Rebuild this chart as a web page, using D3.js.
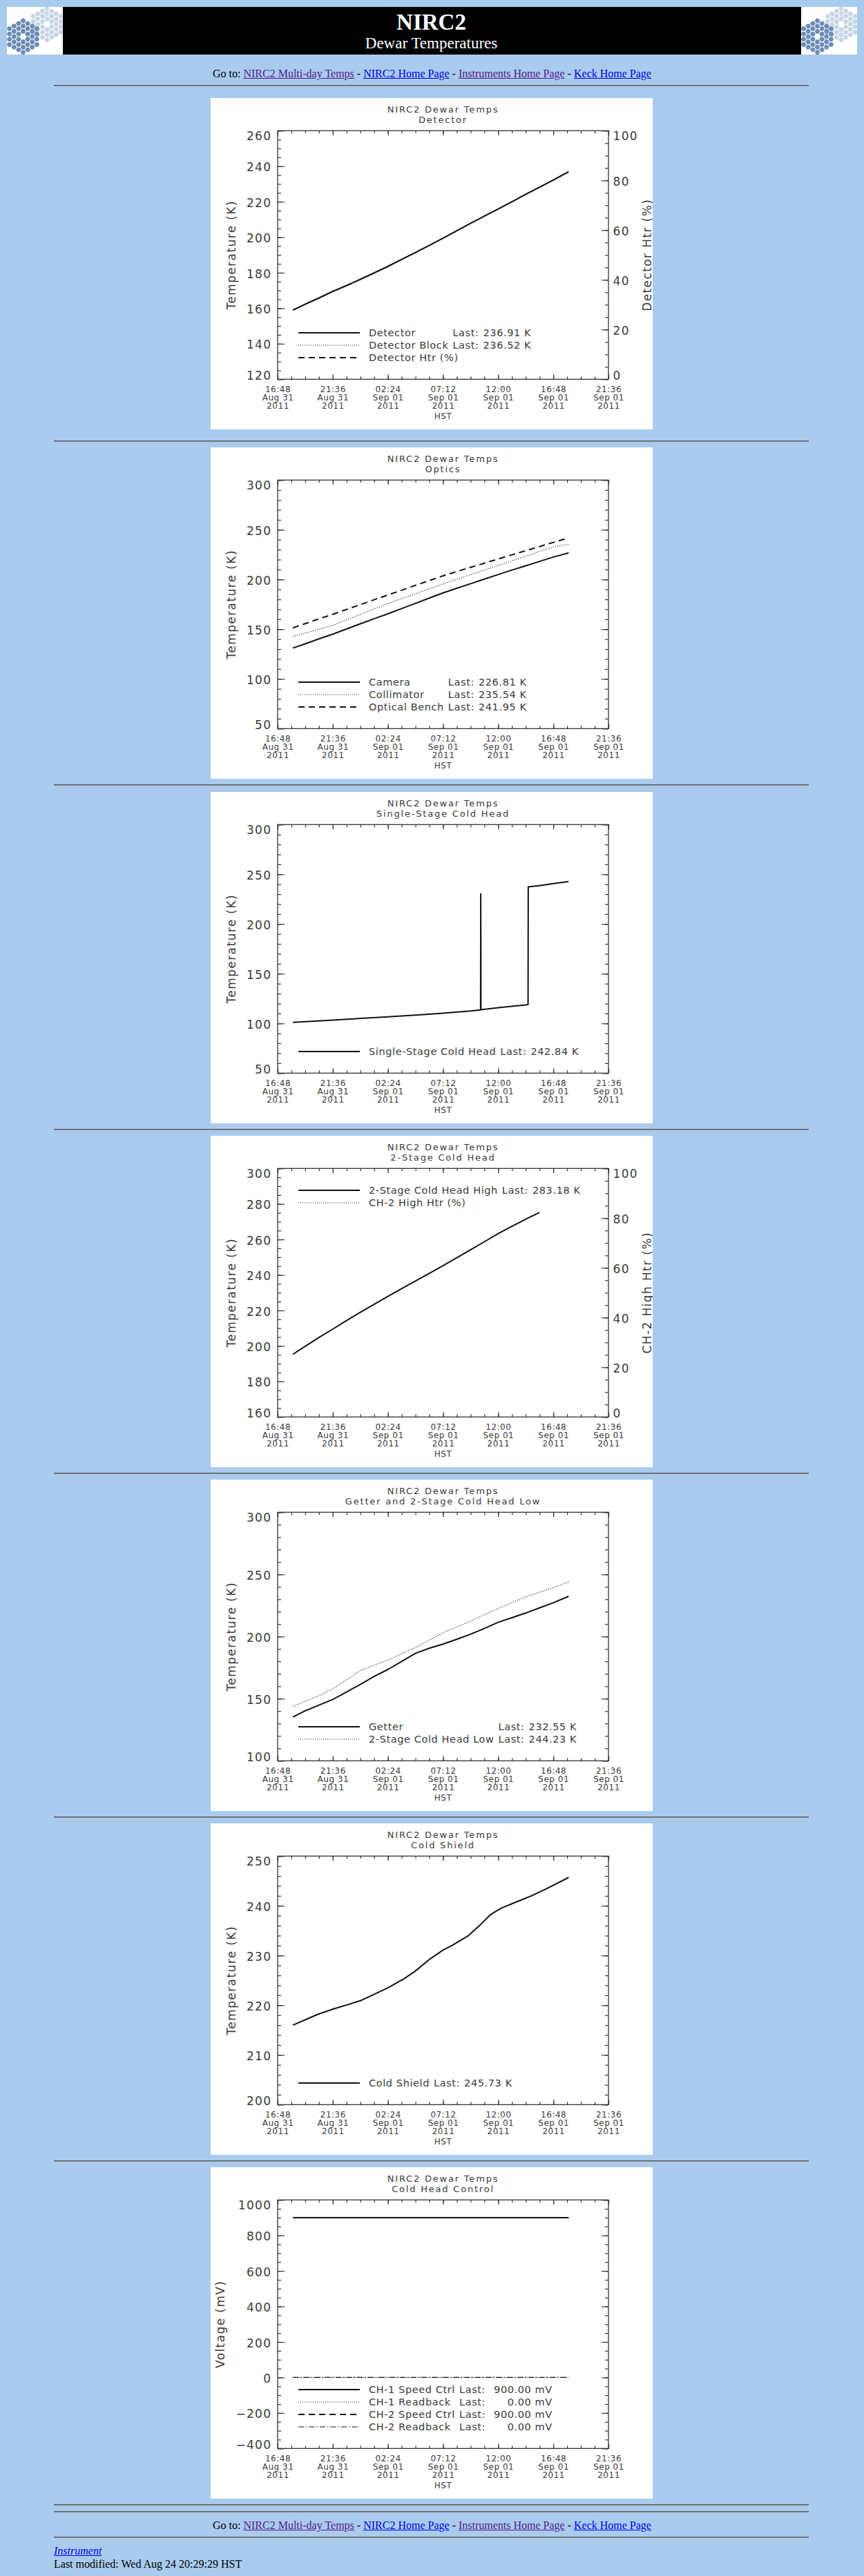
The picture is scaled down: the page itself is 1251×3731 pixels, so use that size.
<!DOCTYPE html>
<html>
<head>
<meta charset="utf-8">
<title>NIRC2 Dewar Temperatures</title>
<script src="https://cdn.jsdelivr.net/npm/d3@7"></script>
<style>
  body { margin: 0; background: #a9cbee; font-family: "Liberation Serif", "Times New Roman", serif; font-size: 16px; }
  #page { position: relative; width: 1251px; height: 3731px; overflow: hidden; }
  .abs { position: absolute; }
  .rule { position: absolute; left: 78px; width: 1093px; height: 0; border-top: 1px solid #5a5a5a; border-bottom: 1px solid #8e8e8e; }
  .nav { position: absolute; left: 0; width: 1251px; text-align: center; line-height: 16px; white-space: nowrap; }
  .foot { position: absolute; left: 78px; line-height: 16px; white-space: nowrap; }
  a { color: #0000ee; }
  a.seen { color: #551a8b; }
  .panel { position: absolute; left: 305px; width: 640px; height: 480px; background: #fff; overflow: hidden; }
</style>
</head>
<body>
<div id="page"></div>
<script>
// ---- data ----------------------------------------------------------------
const parseTime = d3.timeParse("%Y-%m-%d %H:%M");
const xStart = "2011-08-31 16:48";
const xEnd = "2011-09-01 21:36";

const sampleTimes = [
  "2011-08-31 18:08", "2011-08-31 19:12", "2011-08-31 20:24", "2011-08-31 21:36", "2011-08-31 22:48",
  "2011-09-01 00:00", "2011-09-01 01:12", "2011-09-01 02:24", "2011-09-01 03:36", "2011-09-01 04:48",
  "2011-09-01 06:00", "2011-09-01 07:12", "2011-09-01 08:24", "2011-09-01 09:36", "2011-09-01 10:48",
  "2011-09-01 12:00", "2011-09-01 13:12", "2011-09-01 14:24", "2011-09-01 15:36", "2011-09-01 16:48",
  "2011-09-01 18:08"
];

const detectorTemp = [159.0, 162.3, 165.8, 169.5, 172.8, 176.3, 179.9, 183.6, 187.5, 191.4, 195.4,
  199.5, 203.7, 207.9, 211.9, 215.9, 220.0, 224.2, 228.2, 232.3, 236.9];
const detectorBlockTemp = [158.8, 162.0, 165.5, 169.2, 172.5, 176.0, 179.6, 183.3, 187.2, 191.1, 195.1,
  199.2, 203.4, 207.6, 211.6, 215.6, 219.7, 223.9, 227.9, 231.9, 236.5];
const detectorHtr = [];

const cameraTemp = [131.0, 135.3, 140.3, 145.0, 150.2, 155.4, 160.5, 165.5, 170.8, 176.0, 181.3,
  186.5, 191.2, 195.8, 200.4, 205.0, 209.5, 213.8, 218.2, 222.5, 226.8];
const collimatorTemp = [142.6, 146.0, 149.9, 153.8, 159.4, 164.9, 170.4, 175.8, 180.8, 185.7, 190.6,
  195.5, 200.2, 204.9, 209.5, 214.1, 218.8, 223.4, 228.1, 232.7, 235.5];
const benchTemp = [151.4, 155.6, 160.4, 165.0, 169.9, 174.7, 179.6, 184.4, 189.2, 194.1, 198.9,
  203.7, 208.0, 212.2, 216.4, 220.6, 224.8, 229.0, 233.1, 237.3, 241.9];

const singleStageTimes = [
  "2011-08-31 18:08", "2011-08-31 21:36", "2011-09-01 00:00", "2011-09-01 02:24", "2011-09-01 04:48",
  "2011-09-01 07:12", "2011-09-01 09:36", "2011-09-01 10:28", "2011-09-01 10:29", "2011-09-01 10:30",
  "2011-09-01 12:00", "2011-09-01 14:24", "2011-09-01 14:36", "2011-09-01 14:37", "2011-09-01 15:36",
  "2011-09-01 16:48", "2011-09-01 18:08"
];
const singleStageTemp = [101.0, 103.4, 105.0, 106.6, 108.3, 110.2, 112.5, 113.6, 230.5, 113.7,
  115.8, 118.6, 119.0, 237.3, 238.6, 240.7, 242.8];

const coldHeadHighTemp = [195.3, 199.8, 204.8, 209.5, 214.3, 219.0, 223.5, 227.9, 232.3, 236.6,
  240.9, 245.2, 249.7, 254.2, 258.7, 263.3, 267.4, 271.4, 275.2];
const ch2HighHtr = [];

const getterTemp = [135.2, 140.2, 144.8, 149.4, 155.4, 161.5, 167.9, 173.5, 180.0, 186.5, 190.6,
  193.9, 197.8, 201.9, 206.5, 211.5, 215.2, 218.9, 223.1, 227.2, 232.4];
const coldHeadLowTemp = [143.9, 147.8, 152.5, 157.8, 165.0, 172.6, 177.0, 181.2, 186.2, 191.1, 197.1,
  203.1, 207.8, 212.4, 217.5, 222.6, 227.3, 231.9, 235.6, 239.3, 243.9];

const coldShieldTimes = [
  "2011-08-31 18:08", "2011-08-31 20:13", "2011-08-31 21:36", "2011-09-01 00:00", "2011-09-01 02:24",
  "2011-09-01 03:47", "2011-09-01 04:48", "2011-09-01 06:04", "2011-09-01 07:12", "2011-09-01 07:58",
  "2011-09-01 09:21", "2011-09-01 10:22", "2011-09-01 11:22", "2011-09-01 12:15", "2011-09-01 13:23",
  "2011-09-01 14:54", "2011-09-01 16:10", "2011-09-01 18:08"
];
const coldShieldTemp = [216.0, 218.1, 219.2, 220.9, 223.5, 225.3, 226.9, 229.3, 231.1, 232.0,
  233.9, 236.0, 238.3, 239.5, 240.6, 242.0, 243.4, 245.7];

const controlTimes = ["2011-08-31 18:08", "2011-09-01 06:00", "2011-09-01 18:08"];
const ch1SpeedCtrl = [900, 900, 900];
const ch1Readback = [0, 0, 0];
const ch2SpeedCtrl = [900, 900, 900];
const ch2Readback = [0, 0, 0];

const navLinks = ["NIRC2 Multi-day Temps", "NIRC2 Home Page", "Instruments Home Page", "Keck Home Page"];
const navSeen = [true, false, true, false];

// ---- layout ---------------------------------------------------------------
const panelTops = [142, 648, 1147, 1645, 2143, 2641, 3139];
const ruleYs = [124, 639, 1137, 1636, 2134, 2632, 3130, 3628, 3638, 3675];
const box = { left: 97, right: 576, top: 47.3, bottom: 407.3 };
const plotFont = "'DejaVu Sans', Verdana, sans-serif";
const ink = "#3a3a3a";

const lineStyles = {
  solid:   { dash: null,          width: 2 },
  dotted:  { dash: "1,2",         width: 1.2 },
  dashed:  { dash: "9,6",         width: 2 },
  dashdot: { dash: "8,3,1.5,3",   width: 1.2 }
};

function series(name, last, times, values, style) {
  return { name, last, style, points: times.slice(0, values.length).map((t, i) => ({ t: parseTime(t), v: values[i] })) };
}

const panels = [
  { title: "Detector", yLabel: "Temperature (K)", yDomain: [120, 260], yStep: 20, yMinor: 4,
    right: { label: "Detector Htr (%)", domain: [0, 100], step: 20, minor: 4 },
    legend: "bottom",
    series: [
      series("Detector", "236.91 K", sampleTimes, detectorTemp, "solid"),
      series("Detector Block", "236.52 K", sampleTimes, detectorBlockTemp, "dotted"),
      series("Detector Htr (%)", null, sampleTimes, detectorHtr, "dashed")
    ] },
  { title: "Optics", yLabel: "Temperature (K)", yDomain: [50, 300], yStep: 50, yMinor: 5,
    legend: "bottom",
    series: [
      series("Camera", "226.81 K", sampleTimes, cameraTemp, "solid"),
      series("Collimator", "235.54 K", sampleTimes, collimatorTemp, "dotted"),
      series("Optical Bench", "241.95 K", sampleTimes, benchTemp, "dashed")
    ] },
  { title: "Single-Stage Cold Head", yLabel: "Temperature (K)", yDomain: [50, 300], yStep: 50, yMinor: 5,
    legend: "bottom",
    series: [series("Single-Stage Cold Head", "242.84 K", singleStageTimes, singleStageTemp, "solid")] },
  { title: "2-Stage Cold Head", yLabel: "Temperature (K)", yDomain: [160, 300], yStep: 20, yMinor: 4,
    right: { label: "CH-2 High Htr (%)", domain: [0, 100], step: 20, minor: 4 },
    legend: "top",
    series: [
      series("2-Stage Cold Head High", "283.18 K", sampleTimes, coldHeadHighTemp, "solid"),
      series("CH-2 High Htr (%)", null, sampleTimes, ch2HighHtr, "dotted")
    ] },
  { title: "Getter and 2-Stage Cold Head Low", yLabel: "Temperature (K)", yDomain: [100, 300], yStep: 50, yMinor: 5,
    legend: "bottom",
    series: [
      series("Getter", "232.55 K", sampleTimes, getterTemp, "solid"),
      series("2-Stage Cold Head Low", "244.23 K", sampleTimes, coldHeadLowTemp, "dotted")
    ] },
  { title: "Cold Shield", yLabel: "Temperature (K)", yDomain: [200, 250], yStep: 10, yMinor: 5,
    legend: "bottom",
    series: [series("Cold Shield", "245.73 K", coldShieldTimes, coldShieldTemp, "solid")] },
  { title: "Cold Head Control", yLabel: "Voltage (mV)", yDomain: [-400, 1000], yStep: 200, yMinor: 4,
    legend: "bottom", valueGap: 2,
    series: [
      series("CH-1 Speed Ctrl", "900.00 mV", controlTimes, ch1SpeedCtrl, "solid"),
      series("CH-1 Readback", "0.00 mV", controlTimes, ch1Readback, "dotted"),
      series("CH-2 Speed Ctrl", "900.00 mV", controlTimes, ch2SpeedCtrl, "dashed"),
      series("CH-2 Readback", "0.00 mV", controlTimes, ch2Readback, "dashdot")
    ] }
];

const page = d3.select("#page");

// ---- header banner ----------------------------------------------------------
function drawKeck(g, cx, cy, color) {
  const r = 4.4, h = Math.sqrt(3) * r;
  for (let q = -3; q <= 3; q++) {
    for (let s = -3; s <= 3; s++) {
      if (Math.max(Math.abs(q), Math.abs(s), Math.abs(q + s)) > 3 || (q === 0 && s === 0)) continue;
      const x = cx + 1.5 * r * q, y = cy + h * (s + q / 2);
      const pts = d3.range(6).map(k => {
        const a = Math.PI / 3 * k;
        return [x + 0.86 * r * Math.cos(a), y + 0.86 * r * Math.sin(a)];
      });
      g.append("polygon").attr("points", pts.join(" ")).attr("fill", color);
    }
  }
}

const header = page.append("svg").attr("class", "abs")
  .style("left", "10px").style("top", "10px")
  .attr("width", 1231).attr("height", 69);

header.append("rect").attr("x", 80).attr("width", 1070).attr("height", 69).attr("fill", "#000");

[0, 1150].forEach((ox, i) => {
  header.append("clipPath").attr("id", "logo" + i)
    .append("rect").attr("width", 81).attr("height", 69);
  const lg = header.append("g").attr("transform", `translate(${ox},0)`).attr("clip-path", `url(#logo${i})`);
  lg.append("rect").attr("width", 81).attr("height", 69).attr("fill", "#fff");
  drawKeck(lg, 58, 25, "#c8d5e5");
  drawKeck(lg, 23.5, 43, "#6b8db5");
});

header.append("text").attr("x", 614.5).attr("y", 32.7)
  .attr("text-anchor", "middle").attr("fill", "#fff")
  .style("font", "bold 33px 'Liberation Serif', serif")
  .text("NIRC2");
header.append("text").attr("x", 614.5).attr("y", 60)
  .attr("text-anchor", "middle").attr("fill", "#fff")
  .style("font", "23px 'Liberation Serif', serif")
  .text("Dewar Temperatures");

// ---- navigation + rules -----------------------------------------------------
function addNav(top) {
  const nav = page.append("div").attr("class", "nav").style("top", top + "px");
  nav.append("span").text("Go to: ");
  navLinks.forEach((name, i) => {
    if (i > 0) nav.append("span").text(" - ");
    nav.append("a").attr("href", "#").classed("seen", navSeen[i]).text(name);
  });
}
addNav(99);
addNav(3650);

ruleYs.forEach(y => page.append("div").attr("class", "rule").style("top", (y - 1) + "px"));

const inst = page.append("div").attr("class", "foot").style("top", "3687px");
inst.append("a").attr("href", "#").style("font-style", "italic").text("Instrument");
page.append("div").attr("class", "foot").style("top", "3706px")
  .text("Last modified: Wed Aug 24 20:29:29 HST");

// ---- plots ------------------------------------------------------------------
const x = d3.scaleTime().domain([parseTime(xStart), parseTime(xEnd)]).range([box.left, box.right]);
const t0 = x.domain()[0].getTime();
const xMajor = d3.range(7).map(k => new Date(t0 + k * 288 * 60000));
const xMinor = d3.range(25).map(k => new Date(t0 + k * 72 * 60000));
const fmtTime = d3.timeFormat("%H:%M"), fmtDay = d3.timeFormat("%b %d"), fmtYear = d3.timeFormat("%Y");

function styleAxis(g, size, spacing) {
  g.select(".domain").remove();
  g.attr("color", "#333").attr("font-family", plotFont).attr("font-size", size)
    .style("letter-spacing", spacing + "px");
  g.selectAll(".tick line").attr("stroke-width", 1.2);
  g.selectAll(".tick text").attr("fill", ink);
}

function clampLabels(g, scale) {
  g.selectAll(".tick text").each(function (d) {
    const py = scale(d);
    const c = Math.max(box.top + 7.5, Math.min(box.bottom - 6.2, py + 1));
    d3.select(this).attr("y", c - py).attr("dy", "0.36em");
  });
}

function yTicks(lo, hi, step) {
  return d3.range(lo, hi + step / 1000, step);
}

function drawPanel(spec, i) {
  const svg = page.append("svg").attr("class", "panel")
    .style("top", panelTops[i] + "px")
    .attr("width", 640).attr("height", 480);

  const y = d3.scaleLinear().domain(spec.yDomain).range([box.bottom, box.top]);
  const yMajor = yTicks(spec.yDomain[0], spec.yDomain[1], spec.yStep);
  const yMinor = yTicks(spec.yDomain[0], spec.yDomain[1], spec.yStep / spec.yMinor);

  // titles
  const title = svg.append("g").attr("font-family", plotFont).attr("font-size", 13)
    .attr("fill", ink).attr("text-anchor", "middle").style("letter-spacing", "1.8px");
  title.append("text").attr("x", (box.left + box.right) / 2).attr("y", 21.3).text("NIRC2 Dewar Temps");
  title.append("text").attr("x", (box.left + box.right) / 2).attr("y", 36.3).text(spec.title);

  // x axes (top and bottom, minor and major ticks point inward)
  svg.append("g").attr("transform", `translate(0,${box.bottom})`)
    .call(d3.axisBottom(x).tickValues(xMinor).tickSize(-4).tickFormat(""))
    .call(g => styleAxis(g, 12, 0.5));
  svg.append("g").attr("transform", `translate(0,${box.top})`)
    .call(d3.axisTop(x).tickValues(xMinor).tickSize(-4).tickFormat(""))
    .call(g => styleAxis(g, 12, 0.5));
  svg.append("g").attr("transform", `translate(0,${box.top})`)
    .call(d3.axisTop(x).tickValues(xMajor).tickSize(-7).tickFormat(""))
    .call(g => styleAxis(g, 12, 0.5));
  const xb = svg.append("g").attr("transform", `translate(0,${box.bottom})`)
    .call(d3.axisBottom(x).tickValues(xMajor).tickSize(-7).tickFormat(""))
    .call(g => styleAxis(g, 12, 0.5));
  xb.selectAll(".tick text").attr("y", 0).attr("dy", null).each(function (d) {
    const t = d3.select(this);
    t.append("tspan").attr("x", 0).attr("y", 19).text(fmtTime(d));
    t.append("tspan").attr("x", 0).attr("y", 30.7).text(fmtDay(d));
    t.append("tspan").attr("x", 0).attr("y", 42.4).text(fmtYear(d));
  });
  svg.append("text").attr("x", (box.left + box.right) / 2).attr("y", 465.3)
    .attr("text-anchor", "middle").attr("font-family", plotFont).attr("font-size", 12)
    .style("letter-spacing", "0.5px").attr("fill", ink).text("HST");

  // left y axis
  svg.append("g").attr("transform", `translate(${box.left},0)`)
    .call(d3.axisLeft(y).tickValues(yMinor).tickSize(-5).tickFormat(""))
    .call(g => styleAxis(g, 17, 1.3));
  const yl = svg.append("g").attr("transform", `translate(${box.left},0)`)
    .call(d3.axisLeft(y).tickValues(yMajor).tickSize(-10).tickPadding(8.7).tickFormat(d3.format("d")))
    .call(g => styleAxis(g, 17, 1.3));
  clampLabels(yl, y);

  let minLeft = box.left;
  yl.selectAll(".tick text").each(function () {
    minLeft = Math.min(minLeft, box.left - 8.7 - this.getComputedTextLength());
  });
  const yTitleX = minLeft - 21.7;
  svg.append("text")
    .attr("transform", `translate(${yTitleX + 5.4},${(box.top + box.bottom) / 2}) rotate(-90)`)
    .attr("text-anchor", "middle").attr("font-family", plotFont).attr("font-size", 17)
    .style("letter-spacing", "1.4px").attr("fill", ink).text(spec.yLabel);

  // right y axis: either its own scale or a mirror of the left one
  const clipId = "clip" + i;
  if (spec.right) {
    const y2 = d3.scaleLinear().domain(spec.right.domain).range([box.bottom, box.top]);
    const r = spec.right;
    svg.append("g").attr("transform", `translate(${box.right},0)`)
      .call(d3.axisRight(y2).tickValues(yTicks(r.domain[0], r.domain[1], r.step / r.minor)).tickSize(-5).tickFormat(""))
      .call(g => styleAxis(g, 17, 1.3));
    const yr = svg.append("g").attr("transform", `translate(${box.right},0)`)
      .call(d3.axisRight(y2).tickValues(yTicks(r.domain[0], r.domain[1], r.step)).tickSize(-10).tickPadding(6.6).tickFormat(d3.format("d")))
      .call(g => styleAxis(g, 17, 1.3));
    clampLabels(yr, y2);
    // the right title runs past the image edge, as in the original plot
    svg.append("text")
      .attr("transform", `translate(${633 + 5.4},${(box.top + box.bottom) / 2}) rotate(-90)`)
      .attr("text-anchor", "middle").attr("font-family", plotFont).attr("font-size", 17)
      .style("letter-spacing", "1.4px").attr("fill", ink).text(r.label);
  } else {
    svg.append("g").attr("transform", `translate(${box.right},0)`)
      .call(d3.axisRight(y).tickValues(yMinor).tickSize(-5).tickFormat(""))
      .call(g => styleAxis(g, 17, 1.3));
    svg.append("g").attr("transform", `translate(${box.right},0)`)
      .call(d3.axisRight(y).tickValues(yMajor).tickSize(-10).tickFormat(""))
      .call(g => styleAxis(g, 17, 1.3));
  }

  // plot box
  svg.append("rect").attr("x", box.left).attr("y", box.top)
    .attr("width", box.right - box.left).attr("height", box.bottom - box.top)
    .attr("fill", "none").attr("stroke", "#333").attr("stroke-width", 1.3);

  // data
  svg.append("clipPath").attr("id", clipId).append("rect")
    .attr("x", box.left).attr("y", box.top)
    .attr("width", box.right - box.left).attr("height", box.bottom - box.top);
  const line = d3.line().x(d => x(d.t)).y(d => y(d.v));
  svg.append("g").attr("clip-path", `url(#${clipId})`)
    .selectAll("path").data(spec.series.filter(s => s.points.length)).join("path")
    .attr("d", s => line(s.points))
    .attr("fill", "none").attr("stroke", "#111")
    .attr("stroke-width", s => lineStyles[s.style].width)
    .attr("stroke-dasharray", s => lineStyles[s.style].dash)
    .attr("stroke-linejoin", "round");

  // legend
  const n = spec.series.length;
  const rowY = k => spec.legend === "top" ? 79 + 18 * k : 376 - 18 * (n - 1 - k);
  const lg = svg.append("g").attr("font-family", plotFont).attr("font-size", 14.5)
    .style("letter-spacing", "0.6px").attr("fill", ink);
  const rows = lg.selectAll("g").data(spec.series).join("g")
    .attr("transform", (s, k) => `translate(0,${rowY(k)})`);
  rows.append("line").attr("x1", 127).attr("x2", 216)
    .attr("stroke", "#111")
    .attr("stroke-width", s => lineStyles[s.style].width)
    .attr("stroke-dasharray", s => lineStyles[s.style].dash);
  const names = rows.append("text").attr("x", 229).attr("y", 5.3).text(s => s.name);

  const space = 6;
  let maxName = 0;
  names.filter(s => s.last).each(function () { maxName = Math.max(maxName, this.getComputedTextLength()); });
  const lastX = 229 + maxName + space;
  const lastLabels = rows.filter(s => s.last).append("text")
    .attr("x", lastX).attr("y", 5.3).text("Last:");
  let lastW = 0;
  lastLabels.each(function () { lastW = Math.max(lastW, this.getComputedTextLength()); });
  const valueTexts = rows.filter(s => s.last).append("text").attr("y", 5.3).text(s => s.last);
  let maxVal = 0;
  valueTexts.each(function () { maxVal = Math.max(maxVal, this.getComputedTextLength()); });
  const valueEnd = lastX + lastW + space * (spec.valueGap || 1) + maxVal;
  valueTexts.attr("x", valueEnd).attr("text-anchor", "end");
}

panels.forEach(drawPanel);
</script>
</body>
</html>
